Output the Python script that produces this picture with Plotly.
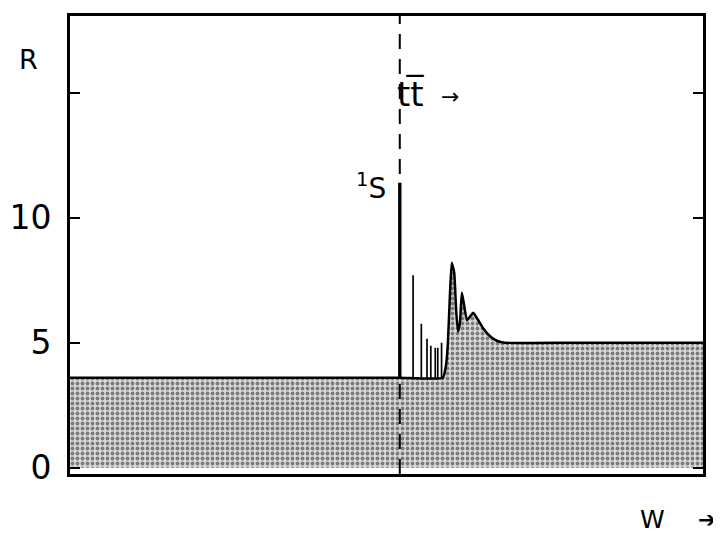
import plotly.graph_objects as go

# ---- data ----
# flat level below the open-top threshold
W_base = [0.0, 20.0, 40.0, 52.0, 58.9]
R_base = [3.6, 3.6, 3.6, 3.6, 3.6]
# continuum above threshold
W_cont = [59.4, 59.7, 60.0, 60.3, 60.7, 61.0, 61.3, 61.6, 61.9, 62.2, 62.7,
          63.2, 63.7, 64.5, 65.2, 66.4, 67.5, 68.7, 80.0, 100.0]
R_cont = [4.1, 5.0, 6.8, 8.2, 7.8, 6.3, 5.45, 5.8, 7.0, 6.6, 5.9,
          6.05, 6.2, 5.9, 5.6, 5.25, 5.07, 5.0, 5.0, 5.0]
# narrow resonances (1S, 2S, ...)
W_res = [52.1, 54.2, 55.5, 56.4, 57.0, 57.7, 58.1, 58.7]
R_res = [11.4, 7.7, 5.76, 5.16, 4.88, 4.8, 4.8, 5.0]
# threshold position
W_thr = 52.1

y_ticks = [0, 5, 10]
y_ticklabels = ["0", "5", "10"]
y_minor_ticks = [15]

FONT = "DejaVu Sans"

# ---- geometry (page offset of 8px from the html body margin) ----
FW, FH = 721, 536
OFF = 8
L, T, R_, B = 70 - OFF, 16 - OFF, FW - 703 + OFF, FH - 474 + OFF
PW, PH = FW - L - R_, FH - T - B


def px2paper(px, py):
    fx = (px - OFF - L) / PW
    fy = (FH - B - (py - OFF)) / PH
    return fx, fy


W_curve = W_base + W_cont
R_curve = R_base + R_cont

fig = go.Figure()

fig.add_trace(go.Scatter(
    x=W_curve, y=R_curve, mode="lines",
    line=dict(color="black", width=2.5, shape="spline", smoothing=0.4),
    fill="tozeroy", fillcolor="#d8d8d8",
    fillpattern=dict(shape=".", size=5, solidity=0.45, fgcolor="#1e1e1e"),
    hoverinfo="skip", showlegend=False,
))

# resonance spikes
sx, sy = [], []
for w, r in zip(W_res, R_res):
    sx += [w, w, None]
    sy += [R_base[0], r, None]
fig.add_trace(go.Scatter(
    x=sx[3:], y=sy[3:], mode="lines",
    line=dict(color="black", width=1.7), showlegend=False, hoverinfo="skip",
))
fig.add_trace(go.Scatter(
    x=sx[:3], y=sy[:3], mode="lines",
    line=dict(color="black", width=3.4), showlegend=False, hoverinfo="skip",
))

# threshold dashed line
fig.add_vline(x=W_thr, line=dict(color="black", width=2, dash="15px,10px"))

fig.add_annotation(x=W_thr, y=11.24, xref="x", yref="y",
                   text="<sup>1</sup>S", showarrow=False,
                   xanchor="right", yanchor="middle", xshift=-12,
                   font=dict(family=FONT, size=28, color="black"))
fig.add_annotation(x=W_thr, y=14.95, xref="x", yref="y",
                   text="tt\u0305", showarrow=False,
                   xanchor="left", yanchor="middle", xshift=-5,
                   font=dict(family=FONT, size=34, color="black"))
fig.add_annotation(x=W_thr, y=14.85, xref="x", yref="y",
                   text="\u2192", showarrow=False,
                   xanchor="left", yanchor="middle", xshift=39,
                   font=dict(family=FONT, size=22, color="black"))

for txt, px, py, sz in [("R", 28, 59, 27), ("W", 652, 520, 25), ("\u2794", 707, 520, 22)]:
    fx, fy = px2paper(px, py)
    fig.add_annotation(x=fx, y=fy, xref="paper", yref="paper",
                       text=txt, showarrow=False, xanchor="center", yanchor="middle",
                       font=dict(family=FONT, size=sz, color="black"))

fig.update_layout(
    width=FW, height=FH,
    margin=dict(l=L, r=R_, t=T, b=B, autoexpand=False),
    paper_bgcolor="white", plot_bgcolor="white",
    font=dict(family=FONT, color="black"),
)
fig.update_xaxes(range=[0, 100], showgrid=False, zeroline=False,
                 showticklabels=False, ticks="", automargin=False,
                 showline=True, linecolor="black", linewidth=3, mirror=True)
fig.update_yaxes(range=[-0.25, 18.07], showgrid=False, zeroline=False,
                 tickvals=y_ticks, ticktext=y_ticklabels, automargin=False,
                 ticks="inside", ticklen=10, tickwidth=1.5, tickcolor="black",
                 minor=dict(tickvals=y_minor_ticks, ticks="inside", ticklen=10,
                            tickwidth=1.5, tickcolor="black", showgrid=False),
                 ticklabelstandoff=9,
                 tickfont=dict(family=FONT, size=33, color="black"),
                 showline=True, linecolor="black", linewidth=3, mirror="ticks")

fig.write_html("out.html")
